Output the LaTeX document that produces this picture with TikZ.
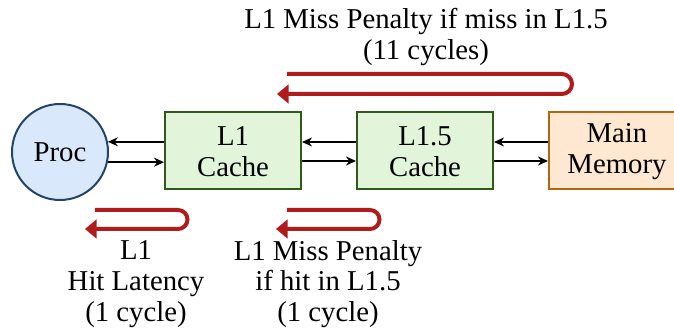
\documentclass[tikz,border=0pt]{standalone}
\usepackage{fontspec}
\setmainfont{Liberation Serif}
\usetikzlibrary{arrows.meta}

\definecolor{procfill}{HTML}{DAE8FC}
\definecolor{procline}{HTML}{23446B}
\definecolor{cachefill}{HTML}{E2F5DA}
\definecolor{cacheline}{HTML}{2F5A1E}
\definecolor{memfill}{HTML}{FFE8D2}
\definecolor{memline}{HTML}{B4650F}
\definecolor{lat}{HTML}{B01C1C}

\tikzset{
  unit/.style={draw, line width=0.8pt, minimum width=54.4pt, minimum height=30.8pt, align=center, inner sep=0pt},
  bus/.style={line width=0.7pt, -{Stealth[length=4pt, width=3.6pt]}},
  turn/.style={draw=lat, line width=1.6pt, -{Triangle[length=4.6pt, width=7.4pt]}},
  caption/.style={align=center}
}

\begin{document}
\begin{tikzpicture}[x=0.4pt, y=-0.4pt, font=\fontsize{11.5pt}{12.3pt}\selectfont]
  \useasboundingbox (0,0) rectangle (674,331);

  % Processeur et hierarchie memoire
  \node[circle, draw=procline, fill=procfill, line width=0.8pt, minimum size=38.4pt, inner sep=0pt] (proc) at (60,152) {Proc};
  \node[unit, draw=cacheline, fill=cachefill] (l1) at (233,150.5) {\strut L1\\Cache};
  \node[unit, draw=cacheline, fill=cachefill] (l15) at (425,150.5) {\strut L1.5\\Cache};
  \node[unit, draw=memline, fill=memfill] (mem) at (617,150.5) {\strut Main\\Memory};

  % Requetes et reponses
  \draw[bus] (l1.west |- proc.12) -- (proc.12);
  \draw[bus] (proc.-12) -- (l1.west |- proc.-12);
  \draw[bus] (l15.west |- 0,142) -- (l1.east |- 0,142);
  \draw[bus] (l1.east |- 0,161) -- (l15.west |- 0,161);
  \draw[bus] (mem.west |- 0,142) -- (l15.east |- 0,142);
  \draw[bus] (l15.east |- 0,161) -- (mem.west |- 0,161);

  % Latences (aller-retour)
  \draw[turn] (287,74) -- (562,74) arc[start angle=90, end angle=-90, radius=4pt] -- (277,94);
  \draw[turn] (95,210) -- (178,210) arc[start angle=90, end angle=-90, radius=3.8pt] -- (85,229);
  \draw[turn] (287,210) -- (370,210) arc[start angle=90, end angle=-90, radius=3.8pt] -- (276,229);

  % Legendes
  \node[caption] (miss) at (426,37) {L1 Miss Penalty if miss in L1.5\\(11 cycles)};
  \node[caption] (hit) at (136,284) {L1\\Hit Latency\\(1 cycle)};
  \node[caption] (pen) at (328,284) {L1 Miss Penalty\\if hit in L1.5\\(1 cycle)};
\end{tikzpicture}
\end{document}
